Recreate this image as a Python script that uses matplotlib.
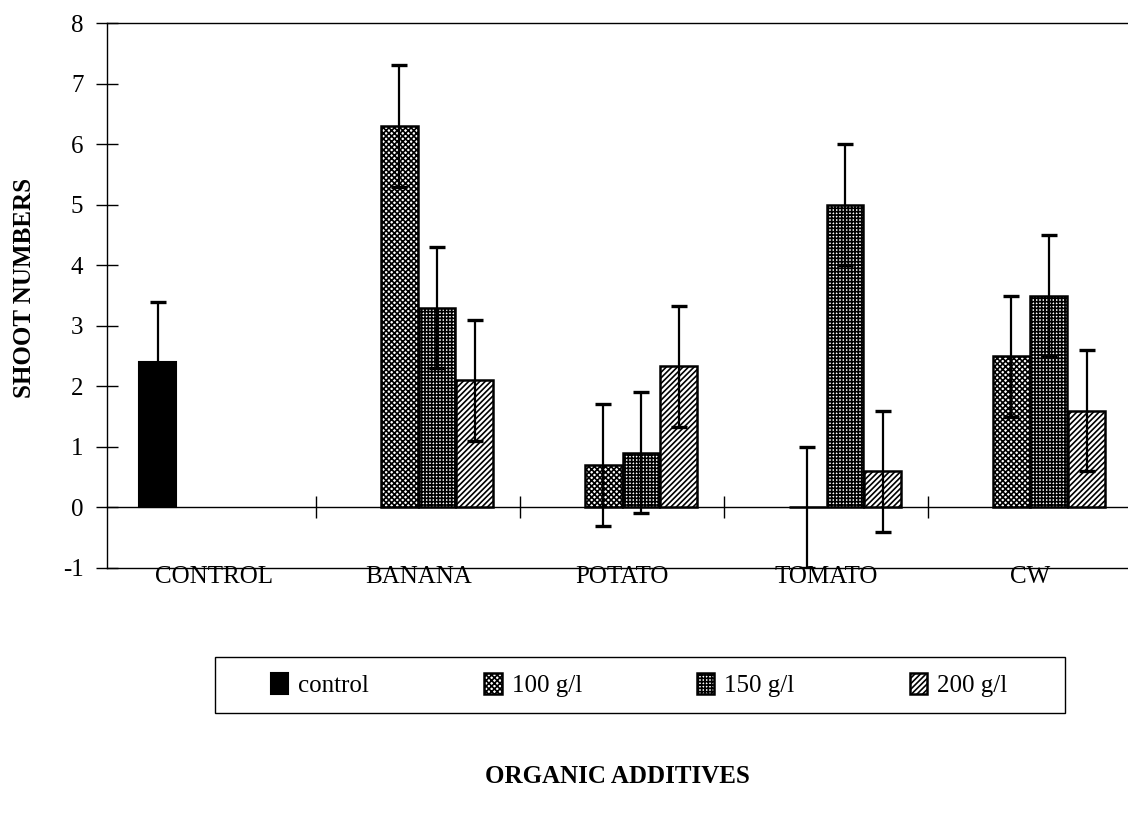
"""Shoot numbers vs organic additives - grouped bar chart with error bars."""
import matplotlib
matplotlib.use("Agg")
import matplotlib.pyplot as plt
from matplotlib.patches import Rectangle

plt.rcParams["font.family"] = ["Liberation Serif", "DejaVu Serif"]
plt.rcParams["hatch.linewidth"] = 1.2
plt.rcParams["axes.unicode_minus"] = False

# --- data ---
categories = ["CONTROL", "BANANA", "POTATO", "TOMATO", "CW"]
series_labels = ["control", "100 g/l", "150 g/l", "200 g/l"]

control_mean = [2.4]
control_err = [1.0]

# BANANA, POTATO, TOMATO, CW
mean_100 = [6.3, 0.7, 0.0, 2.5]
mean_150 = [3.3, 0.9, 5.0, 3.5]
mean_200 = [2.1, 2.33, 0.6, 1.6]
err_100 = [1.0, 1.0, 1.0, 1.0]
err_150 = [1.0, 1.0, 1.0, 1.0]
err_200 = [1.0, 1.0, 1.0, 1.0]

group_separators = [1, 2, 3, 4]
y_ticks = [-1, 0, 1, 2, 3, 4, 5, 6, 7, 8]

fig = plt.figure(figsize=(11.28, 8.17), dpi=100)
ax = fig.add_axes([0.0949, 0.3048, 0.9051, 0.667])

width = 0.181
step = 0.185
offsets = [(k - 1.5) * step for k in range(4)]
err_kw = dict(fmt="none", ecolor="black", elinewidth=1.6, capsize=6, capthick=2.4, zorder=4)

# control group
xc = [0.5 + offsets[0]]
h_ctrl = ax.bar(xc, control_mean, width, color="black", edgecolor="black", lw=1.5, zorder=3)
ax.errorbar(xc, control_mean, yerr=control_err, **err_kw)

# additive groups
centers = [i + 1.5 for i in range(len(mean_100))]
handles = [h_ctrl]
for k, (means, errs, hatch) in enumerate(
        [(mean_100, err_100, "xxxxxx"), (mean_150, err_150, "+++++"), (mean_200, err_200, "//////")], start=1):
    xs = [c + offsets[k] for c in centers]
    h = ax.bar(xs, means, width, facecolor="white", edgecolor="black", hatch=hatch, lw=1.8, zorder=3)
    ax.errorbar(xs, means, yerr=errs, **err_kw)
    handles.append(h)

# axes styling
ax.set_xlim(-0.025, 4.98)
ax.set_ylim(-1, 8)
ax.spines["bottom"].set_position(("data", 0))
ax.spines["right"].set_visible(False)
for s in ("left", "top", "bottom"):
    ax.spines[s].set_linewidth(1.0)
ax.axhline(-1, color="black", lw=1.0, clip_on=False)

ax.set_xticks(group_separators)
ax.set_xticklabels([])
ax.tick_params(axis="x", direction="inout", length=16, width=1.0)
ax.set_yticks(y_ticks)
ax.tick_params(axis="y", direction="inout", length=16, width=1.0, labelsize=18, pad=9)

for i, name in enumerate(categories):
    ax.annotate(name, (i + 0.5, -1), xytext=(0, -11), textcoords="offset points",
                ha="center", va="baseline", fontsize=18, annotation_clip=False)

fig.text(0.022, 0.6475, "SHOOT NUMBERS", rotation=90, ha="center", va="center",
         fontsize=18, fontweight="bold")
fig.text(0.547, 0.049, "ORGANIC ADDITIVES", ha="center", va="center",
         fontsize=18, fontweight="bold")

# legend with a plain rectangular box
fig.legend(handles, series_labels, loc="center", bbox_to_anchor=(0.5665, 0.1616), ncol=4,
           frameon=False, fontsize=18, handlelength=0.7, handleheight=0.9,
           handletextpad=0.4, columnspacing=4.6)
fig.patches.append(Rectangle((0.1906, 0.1273), 0.7535, 0.0685, transform=fig.transFigure,
                             fill=False, edgecolor="black", lw=1.0))

fig.savefig("out.png", dpi=100)
